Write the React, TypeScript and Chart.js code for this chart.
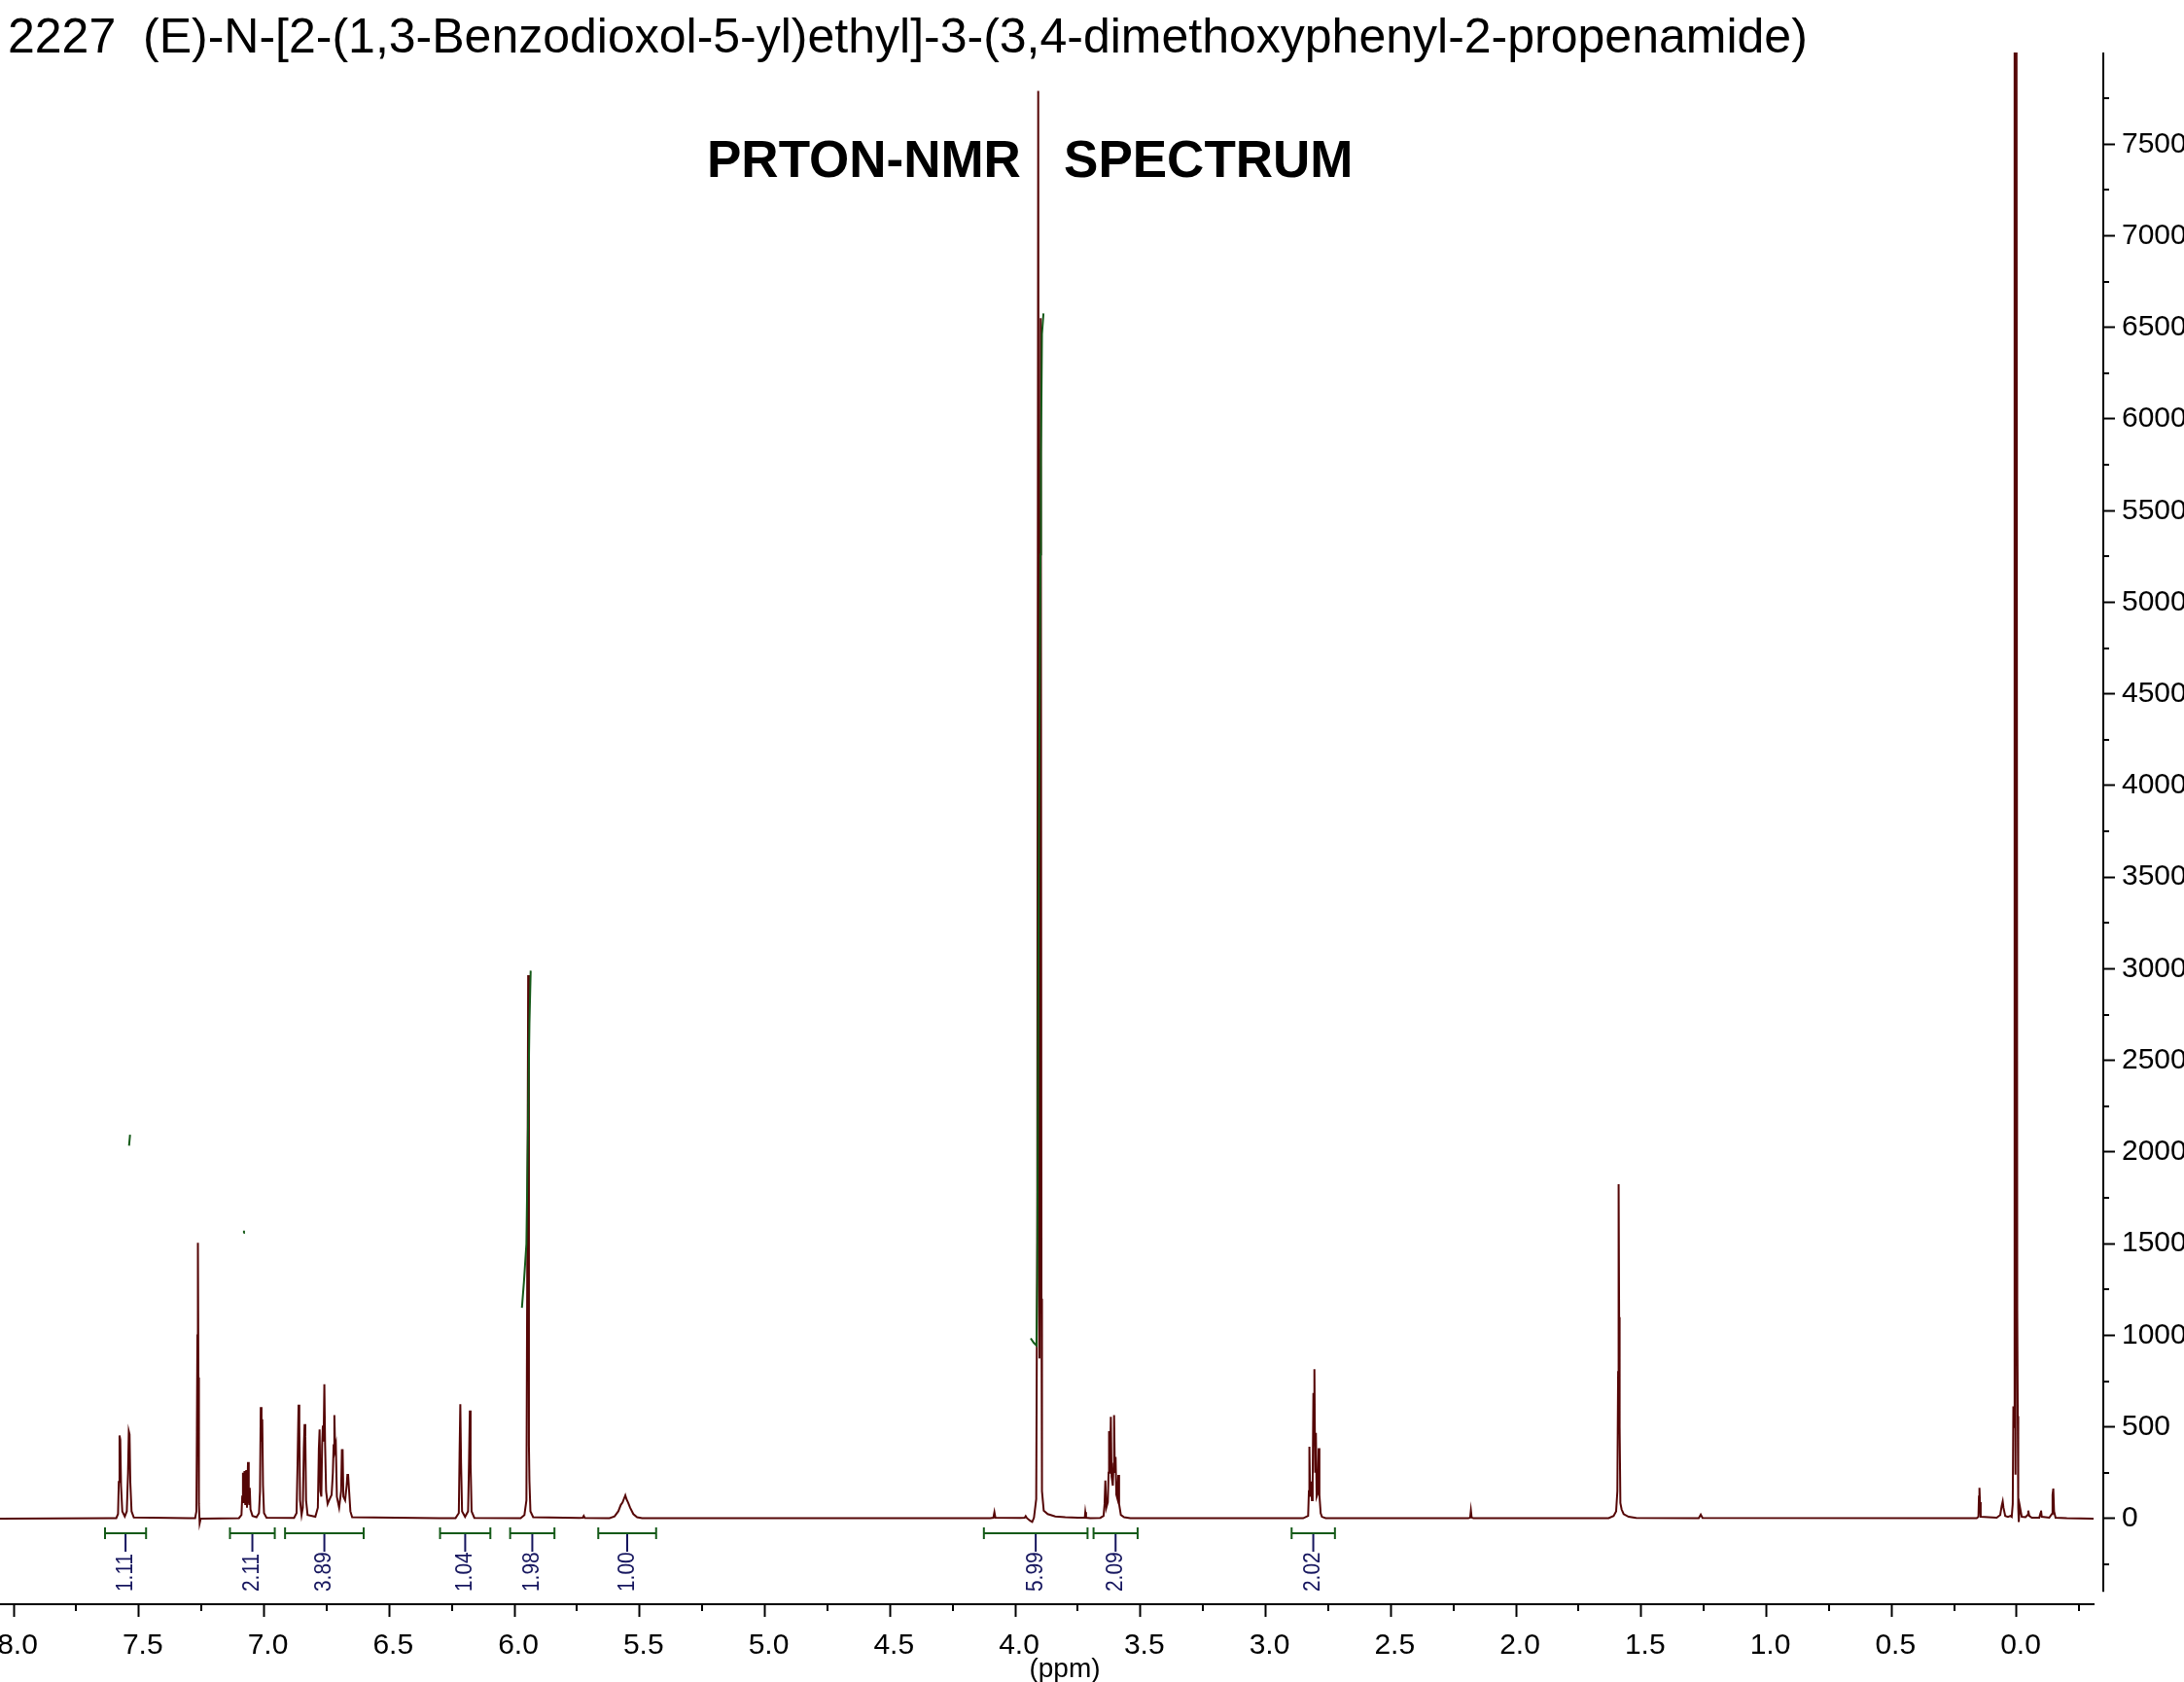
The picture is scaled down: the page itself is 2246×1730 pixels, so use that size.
import React, { useEffect, useRef } from "react";
import { Chart, registerables } from "chart.js";

Chart.register(...registerables);

// ---------- text ----------
const chartTitle = "2227  (E)-N-[2-(1,3-Benzodioxol-5-yl)ethyl]-3-(3,4-dimethoxyphenyl-2-propenamide)";
const spectrumLabel = "PRTON-NMR   SPECTRUM";
const xAxisTitle = "(ppm)";

// ---------- axes ----------
const xMajorTicks = [8.0, 7.5, 7.0, 6.5, 6.0, 5.5, 5.0, 4.5, 4.0, 3.5, 3.0, 2.5, 2.0, 1.5, 1.0, 0.5, 0.0];
const xMinorTicks = [7.75, 7.25, 6.75, 6.25, 5.75, 5.25, 4.75, 4.25, 3.75, 3.25, 2.75, 2.25, 1.75, 1.25, 0.75, 0.25, -0.25];
const yMajorTicks = [0, 500, 1000, 1500, 2000, 2500, 3000, 3500, 4000, 4500, 5000, 5500, 6000, 6500, 7000, 7500];
const yMinorTicks = [-250, 250, 750, 1250, 1750, 2250, 2750, 3250, 3750, 4250, 4750, 5250, 5750, 6250, 6750, 7250, 7750];
const xRange = [8.0544, -0.3068]; // left edge, right edge (ppm)
const yRange = [-467, 8000];
const yAxisLineRange = [-400, 8000];

// ---------- spectrum (ppm, intensity) ----------
const baselineStart = [[8.06, 0], [7.62, 2]];
const doublet757 = [
  [7.590, 3], [7.583, 25], [7.580, 200], [7.577, 454], [7.574, 430], [7.571, 180], [7.566, 40],
  [7.556, 12], [7.548, 40], [7.543, 250], [7.540, 477], [7.537, 460], [7.534, 200], [7.529, 40],
  [7.520, 6], [7.300, 2],
];
const chcl3Peak = [
  [7.275, 3], [7.270, 40], [7.268, 475], [7.266, 1000], [7.264, 1505], [7.262, 770], [7.260, 80],
  [7.257, -25], [7.253, 0],
];
const multiplet708 = [
  [7.100, 3], [7.090, 20], [7.087, 120], [7.084, 251], [7.082, 90], [7.080, 150], [7.078, 260],
  [7.075, 80], [7.073, 160], [7.071, 265], [7.068, 60], [7.066, 170], [7.064, 309], [7.061, 100],
  [7.059, 80], [7.057, 168], [7.054, 50], [7.046, 15], [7.030, 8], [7.020, 30], [7.016, 150],
  [7.013, 608], [7.010, 420], [7.007, 542], [7.004, 180], [7.000, 30], [6.990, 5], [6.880, 4],
];
const multiplet675 = [
  [6.870, 30], [6.866, 300], [6.862, 622], [6.859, 510], [6.856, 100], [6.850, 20], [6.845, 60],
  [6.841, 380], [6.838, 516], [6.835, 450], [6.832, 100], [6.826, 20], [6.795, 10], [6.785, 60],
  [6.781, 380], [6.778, 486], [6.775, 150], [6.771, 120], [6.768, 400], [6.765, 507], [6.762, 420],
  [6.759, 733], [6.756, 400], [6.752, 150], [6.746, 80], [6.740, 100], [6.730, 130], [6.725, 250],
  [6.722, 400], [6.719, 565], [6.716, 380], [6.713, 401], [6.709, 120], [6.700, 60], [6.692, 150],
  [6.689, 374], [6.686, 374], [6.683, 120], [6.676, 100], [6.670, 180], [6.667, 238], [6.664, 238],
  [6.660, 150], [6.655, 40], [6.648, 8], [6.300, 2],
];
const doublet620 = [
  [6.235, 3], [6.222, 30], [6.219, 350], [6.216, 625], [6.213, 300], [6.209, 40], [6.197, 10],
  [6.185, 40], [6.181, 330], [6.178, 590], [6.175, 300], [6.171, 40], [6.160, 4], [5.975, 3],
];
const singlet595 = [
  [5.960, 20], [5.952, 100], [5.948, 1610], [5.945, 2965], [5.942, 400], [5.940, 207], [5.936, 40],
  [5.925, 8], [5.740, 4], [5.727, 5], [5.723, 15], [5.719, 4], [5.630, 3],
];
const broad555 = [
  [5.620, 3], [5.600, 12], [5.585, 40], [5.575, 75], [5.568, 88], [5.562, 110], [5.557, 127],
  [5.552, 105], [5.546, 88], [5.538, 60], [5.525, 25], [5.510, 8], [5.490, 3], [4.100, 3],
];
const region390 = [
  [4.087, 5], [4.083, 35], [4.079, 5], [3.980, 4], [3.962, 5], [3.958, 14], [3.953, 3], [3.940, -12],
  [3.932, -18], [3.925, 5], [3.916, 106], [3.912, 1500], [3.908, 7790], [3.905, 2500], [3.903, 874],
  [3.901, 2500], [3.898, 6550], [3.895, 1200], [3.893, 150], [3.886, 44], [3.870, 25], [3.840, 12],
  [3.800, 8], [3.750, 5], [3.722, 5], [3.720, 35], [3.717, 5], [3.700, 3],
];
const quartet361 = [
  [3.660, 4], [3.647, 15], [3.643, 80], [3.640, 208], [3.636, 60], [3.630, 90], [3.627, 250],
  [3.625, 477], [3.622, 250], [3.620, 380], [3.618, 556], [3.615, 230], [3.610, 180], [3.607, 300],
  [3.605, 565], [3.602, 250], [3.599, 336], [3.596, 130], [3.592, 110], [3.588, 238], [3.585, 80],
  [3.578, 20], [3.565, 8], [3.540, 3], [2.850, 2],
];
const triplet281 = [
  [2.830, 15], [2.827, 150], [2.825, 392], [2.822, 120], [2.820, 120], [2.818, 203], [2.815, 100],
  [2.812, 200], [2.809, 685], [2.807, 400], [2.805, 816], [2.802, 250], [2.799, 468], [2.796, 120],
  [2.791, 140], [2.788, 385], [2.785, 130], [2.780, 30], [2.775, 10], [2.760, 3], [2.190, 2],
];
const smallPeak218 = [[2.183, 6], [2.180, 45], [2.177, 6], [2.170, 2], [1.630, 3]];
const water159 = [
  [1.610, 15], [1.600, 40], [1.595, 150], [1.592, 800], [1.590, 1825], [1.588, 1100], [1.586, 500],
  [1.583, 85], [1.578, 50], [1.570, 25], [1.550, 10], [1.520, 4], [1.270, 3], [1.262, 22], [1.255, 4],
  [0.160, 2],
];
const tmsRegion = [
  [0.153, 10], [0.151, 120], [0.149, 168], [0.147, 90], [0.144, 10], [0.080, 5], [0.066, 20],
  [0.060, 70], [0.056, 94], [0.053, 60], [0.046, 15], [0.035, 10], [0.025, 15], [0.020, 10],
  [0.016, 80], [0.0135, 613], [0.011, 500], [0.0085, 9500], [0.005, 240], [0.0015, 9500],
  [-0.002, 1139], [-0.004, 560], [-0.006, 60], [-0.008, -18], [-0.012, 70], [-0.020, 10],
  [-0.035, 8], [-0.043, 20], [-0.046, 44], [-0.050, 15], [-0.060, 5], [-0.090, 5], [-0.095, 30],
  [-0.097, 44], [-0.100, 10], [-0.130, 5], [-0.140, 25], [-0.143, 130], [-0.146, 164],
  [-0.149, 40], [-0.155, 5], [-0.200, 2], [-0.310, 0],
];

// ---------- integral curves (ppm, intensity) ----------
const integralCurve755 = [[7.539, 2035], [7.535, 2095]];
const integralCurve708 = [[7.082, 1560], [7.080, 1572]];
const integralCurve595 = [[5.970, 1150], [5.962, 1290], [5.952, 1500], [5.945, 2200], [5.940, 2700], [5.935, 2990]];
const integralCurve390 = [
  [3.938, 984], [3.926, 960], [3.915, 945], [3.912, 1300], [3.906, 3500], [3.899, 5261],
  [3.897, 5807], [3.893, 6464], [3.887, 6576],
];

// ---------- integration brackets ----------
const integralFrom = [7.635, 7.136, 6.916, 6.297, 6.017, 5.665, 4.125, 3.687, 2.896];
const integralTo = [7.471, 6.957, 6.602, 6.096, 5.840, 5.434, 3.711, 3.511, 2.723];
const integralValues = ["1.11", "2.11", "3.89", "1.04", "1.98", "1.00", "5.99", "2.09", "2.02"];

// ---------- styles ----------
const FONT = '"Liberation Sans", Arial, sans-serif';
const SPECTRUM_COLOR = "#550606";
const INTEGRAL_COLOR = "#145a18";
const LABEL_COLOR = "#15155e";

const toPoints = (pairs: number[][]) => pairs.map(([x, y]) => ({ x, y }));

const spectrumPairs = [
  ...baselineStart, ...doublet757, ...chcl3Peak, ...multiplet708, ...multiplet675, ...doublet620,
  ...singlet595, ...broad555, ...region390, ...quartet361, ...triplet281, ...smallPeak218,
  ...water159, ...tmsRegion,
];

const decorPlugin = {
  id: "nmrDecor",
  afterDraw(chart: any) {
    const { ctx, chartArea } = chart;
    const xs = chart.scales.x;
    const ys = chart.scales.y;
    ctx.save();

    // y axis line
    ctx.strokeStyle = "#000";
    ctx.lineWidth = 2;
    ctx.beginPath();
    ctx.moveTo(ys.left, ys.getPixelForValue(yAxisLineRange[1]));
    ctx.lineTo(ys.left, ys.getPixelForValue(yAxisLineRange[0]));
    ctx.stroke();

    // minor ticks
    ctx.beginPath();
    for (const v of xMinorTicks) {
      const px = Math.round(xs.getPixelForValue(v));
      ctx.moveTo(px, chartArea.bottom);
      ctx.lineTo(px, chartArea.bottom + 7);
    }
    for (const v of yMinorTicks) {
      const py = Math.round(ys.getPixelForValue(v));
      ctx.moveTo(ys.left, py);
      ctx.lineTo(ys.left + 6, py);
    }
    ctx.stroke();

    // integration brackets
    const yBr = chartArea.bottom - 73;
    for (let i = 0; i < integralFrom.length; i++) {
      const x1 = xs.getPixelForValue(integralFrom[i]);
      const x2 = xs.getPixelForValue(integralTo[i]);
      const xc = (x1 + x2) / 2;
      ctx.strokeStyle = INTEGRAL_COLOR;
      ctx.lineWidth = 2;
      ctx.beginPath();
      ctx.moveTo(x1, yBr);
      ctx.lineTo(x2, yBr);
      ctx.moveTo(x1, yBr - 6);
      ctx.lineTo(x1, yBr + 6);
      ctx.moveTo(x2, yBr - 6);
      ctx.lineTo(x2, yBr + 6);
      ctx.stroke();
      ctx.strokeStyle = LABEL_COLOR;
      ctx.beginPath();
      ctx.moveTo(xc, yBr + 1);
      ctx.lineTo(xc, yBr + 19);
      ctx.stroke();
      ctx.save();
      ctx.translate(xc, yBr + 60);
      ctx.rotate(-Math.PI / 2);
      ctx.scale(0.87, 1);
      ctx.fillStyle = LABEL_COLOR;
      ctx.font = `24px ${FONT}`;
      ctx.textAlign = "left";
      ctx.textBaseline = "middle";
      ctx.fillText(integralValues[i], 0, 0);
      ctx.restore();
    }

    // title texts
    ctx.fillStyle = "#000";
    ctx.textAlign = "left";
    ctx.textBaseline = "alphabetic";
    ctx.font = `50px ${FONT}`;
    ctx.fillText(chartTitle, 8, 54);
    ctx.font = `bold 53px ${FONT}`;
    ctx.fillText(spectrumLabel, 727, 182);
    ctx.font = `28px ${FONT}`;
    ctx.textAlign = "center";
    ctx.fillText(xAxisTitle, 1095, 1725);

    ctx.restore();
  },
};

export default function App() {
  const canvasRef = useRef<HTMLCanvasElement | null>(null);

  useEffect(() => {
    const canvas = canvasRef.current;
    if (!canvas) return;
    const lineDs = (pairs: number[][], color: string, order: number) => ({
      data: toPoints(pairs),
      xAxisID: "x",
      yAxisID: "y",
      showLine: true,
      borderColor: color,
      backgroundColor: color,
      borderWidth: 2,
      pointRadius: 0,
      tension: 0,
      fill: false,
      order,
    });
    const chart = new Chart(canvas, {
      type: "scatter",
      data: {
        datasets: [
          lineDs(integralCurve390, INTEGRAL_COLOR, 1),
          lineDs(integralCurve595, INTEGRAL_COLOR, 1),
          lineDs(integralCurve708, INTEGRAL_COLOR, 1),
          lineDs(integralCurve755, INTEGRAL_COLOR, 1),
          lineDs(spectrumPairs, SPECTRUM_COLOR, 2),
        ],
      },
      options: {
        animation: false,
        responsive: false,
        devicePixelRatio: 1,
        events: [],
        layout: { padding: { top: 54, left: 0, right: 0, bottom: 0 }, autoPadding: false },
        plugins: { legend: { display: false }, tooltip: { enabled: false }, title: { display: false } },
        scales: {
          x: {
            type: "linear",
            position: "bottom",
            reverse: true,
            min: xRange[1],
            max: xRange[0],
            afterBuildTicks: (s: any) => {
              s.ticks = xMajorTicks.map((v) => ({ value: v }));
            },
            afterFit: (s: any) => {
              s.height = 80;
              s.paddingLeft = 0;
              s.paddingRight = 0;
              s.paddingTop = 0;
              s.paddingBottom = 0;
            },
            grid: { display: true, drawOnChartArea: false, drawTicks: true, tickLength: 13, tickWidth: 2, tickColor: "#000" },
            border: { display: true, color: "#000", width: 2 },
            ticks: {
              autoSkip: false,
              maxRotation: 0,
              padding: 12,
              labelOffset: 4,
              color: "#000",
              font: { family: FONT, size: 30 },
              callback: (v: any) => Number(v).toFixed(1),
            },
          },
          y: {
            type: "linear",
            position: "right",
            weight: 1,
            min: yRange[0],
            max: yRange[1],
            afterBuildTicks: (s: any) => {
              s.ticks = yMajorTicks.map((v) => ({ value: v }));
            },
            afterFit: (s: any) => {
              s.width = 83;
              s.paddingLeft = 0;
              s.paddingRight = 0;
              s.paddingTop = 0;
              s.paddingBottom = 0;
            },
            grid: { display: true, drawOnChartArea: false, drawTicks: true, tickLength: 12, tickWidth: 2, tickColor: "#000" },
            border: { display: false },
            ticks: {
              autoSkip: false,
              padding: 7,
              color: "#000",
              font: { family: FONT, size: 30 },
              callback: (v: any) => String(v),
            },
          },
          gap: {
            type: "linear",
            position: "right",
            weight: 0,
            display: true,
            grid: { display: false },
            border: { display: false },
            ticks: { display: false },
            afterFit: (s: any) => {
              s.width = 10;
              s.paddingLeft = 0;
              s.paddingRight = 0;
              s.paddingTop = 0;
              s.paddingBottom = 0;
            },
          },
        },
      } as any,
      plugins: [decorPlugin],
    });
    return () => chart.destroy();
  }, []);

  return (
    <canvas
      ref={canvasRef}
      width={2246}
      height={1730}
      style={{ position: "absolute", left: 0, top: 0, display: "block", background: "#fff" }}
    />
  );
}
